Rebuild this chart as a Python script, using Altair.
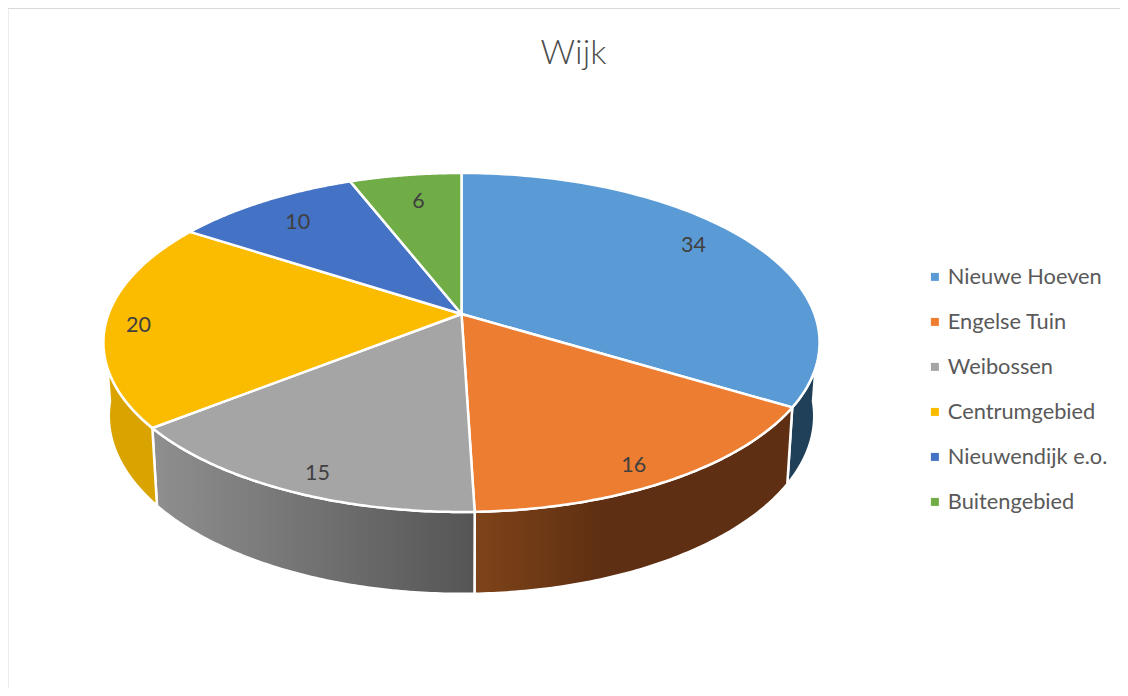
import math
import altair as alt

# Values
names = ["Nieuwe Hoeven", "Engelse Tuin", "Weibossen", "Centrumgebied", "Nieuwendijk e.o.", "Buitengebied"]
values = [34, 16, 15, 20, 10, 6]
colors = ["#5b9bd5", "#ed7d31", "#a5a5a5", "#fbbc00", "#4472c4", "#70ad47"]
# Where each label sits on the pie: clockwise angle from the top, and fraction of the radius
label_angles = [57.5, 152.0, 202.9, 265.8, 320.3, 349.9]
label_radii = [0.838, 0.90, 0.902, 0.907, 0.802, 0.787]

# Perspective of the tilted pie
A, B, K = 353.0, 164.7, 0.168
DEPTH, SX, SY = 72.0, 0.985, 1.05
APEX = [453.5, 306.0]  # relative to the plot area
WIDTH, HEIGHT = 1112, 680


def top(deg, r=1.0):
    t = math.radians(deg)
    X, Y = r * math.sin(t), r * math.cos(t)
    w = 1 + K * Y
    return [A * X / w, -B * Y / w]


def bottom(deg):
    t = math.radians(deg)
    X, Y = math.sin(t), math.cos(t)
    w = 1 + K * Y
    return [SX * A * X / w, DEPTH - SY * B * Y / w]


def arc(f, a0, a1, n=90):
    return [f(a0 + (a1 - a0) * i / n) for i in range(n + 1)]


def feature(ring, **props):
    ring = ring + [ring[0]]
    return {"type": "Feature", "properties": props, "geometry": {"type": "Polygon", "coordinates": [ring]}}


total = sum(values)
edges = [0.0]
for v in values:
    edges.append(edges[-1] + v / total * 360)

proj = dict(type="identity", scale=1, translate=APEX)

# Side walls: (slice index, visible start, visible end, gradient stops)
walls = [
    (0, 95.0, edges[1], [(0, "#203f58"), (1, "#203f58")]),
    (1, edges[1], edges[2], [(0, "#7f4419"), (0.4, "#5e2f12"), (1, "#5e2f12")]),
    (2, edges[2], edges[3], [(0, "#8f8f8f"), (1, "#555555")]),
    (3, edges[3], 265.0, [(0, "#d9a400"), (1, "#d9a400")]),
]
layers = []
for i, a0, a1, stops in walls:
    ring = arc(top, a0, a1) + arc(bottom, a1, a0)
    grad = alt.LinearGradient(
        gradient="linear", x1=0, x2=1, y1=0, y2=0,
        stops=[alt.GradientStop(offset=o, color=c) for o, c in stops],
    )
    layers.append(
        alt.Chart(alt.Data(values=[feature(ring, name=names[i])]))
        .mark_geoshape(fill=grad, stroke="#ffffff", strokeWidth=2.5)
        .project(**proj)
    )

slices = []
for i, name in enumerate(names):
    ring = [[0.0, 0.0]] + arc(top, edges[i], edges[i + 1])
    slices.append(feature(ring, name=name))

pie = (
    alt.Chart(alt.Data(values=slices))
    .mark_geoshape(stroke="#ffffff", strokeWidth=2.5)
    .encode(
        color=alt.Color(
            "properties.name:N",
            scale=alt.Scale(domain=names, range=colors),
            sort=names,
            legend=alt.Legend(
                title=None, orient="none", legendX=916, legendY=258,
                symbolType="square", symbolSize=64, symbolStrokeWidth=0,
                labelFont="Lato", labelFontSize=21.8, labelColor="#595959",
                labelLimit=220, rowPadding=22, labelOffset=2,
            ),
        )
    )
    .project(**proj)
)

lon, lat = [], []
for a, r in zip(label_angles, label_radii):
    p = top(a, r)
    lon.append(p[0])
    lat.append(p[1])
label_rows = [{"label": str(v), "lon": x, "lat": y} for v, x, y in zip(values, lon, lat)]
labels = (
    alt.Chart(alt.Data(values=label_rows))
    .mark_text(font="Lato", fontSize=21.5, color="#404040", baseline="middle", align="center", dy=1)
    .encode(longitude="lon:Q", latitude="lat:Q", text="label:N")
    .project(**proj)
)

frame_color = "#d9d9d9"
frame_left = alt.Chart(alt.Data(values=[{"a": 0}])).mark_rule(color=frame_color, strokeWidth=2).encode(
    x=alt.value(-0.5), y=alt.value(0), y2=alt.value(HEIGHT))
frame_top = alt.Chart(alt.Data(values=[{"a": 0}])).mark_rule(color=frame_color, strokeWidth=1).encode(
    y=alt.value(0.5), x=alt.value(0), x2=alt.value(WIDTH))

chart = (
    alt.layer(frame_left, frame_top, *layers, pie, labels)
    .properties(
        width=WIDTH, height=HEIGHT, padding=0, autosize=alt.AutoSizeParams(type="none"),
        background="#ffffff",
        title=alt.TitleParams(
            "Wijk", font="Lato", fontSize=34, fontWeight=300, color="#4d4d4d",
            anchor="middle", frame="group", dx=9.5, dy=68,
        ),
    )
    .configure_view(stroke=None)
)

chart.save("out.html", embed_options={"renderer": "svg", "actions": False})
